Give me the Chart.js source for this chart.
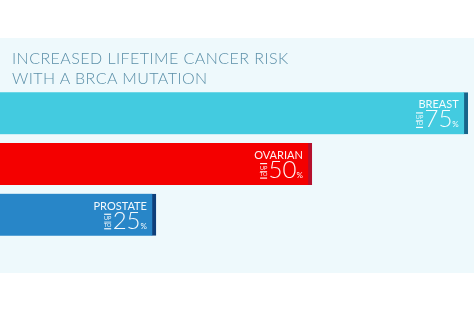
<!DOCTYPE html>
<html>
<head>
<meta charset="utf-8">
<script src="https://cdn.jsdelivr.net/npm/chart.js@4"></script>
<style>
  html, body { margin: 0; padding: 0; background: #ffffff; }
  #wrap { position: relative; width: 474px; height: 311px; }
  #title { position: absolute; left: 12px; top: 48px; font-family: Lato, "Open Sans", sans-serif; font-weight: 300;
           font-size: 16px; line-height: 20px; color: #5b8fa8; letter-spacing: 0.45px; z-index: 2; }
  canvas { position: absolute; left: 0; top: 0; }
</style>
</head>
<body>
<div id="wrap">
  <div id="title">INCREASED LIFETIME CANCER RISK<br>WITH A BRCA MUTATION</div>
  <canvas id="c" width="474" height="311"></canvas>
</div>
<script>
const categories = ["BREAST", "OVARIAN", "PROSTATE"];
const riskValues = [75, 50, 25];
const prefixText = ["UP", "TO"];
const barColors = ["#43cbe0", "#f40000", "#2886c8"];
const stripColors = ["#17648a", "#b5102d", "#0e3f7a"];

const panelPlugin = {
  id: 'panel',
  beforeDraw(chart) {
    const ctx = chart.ctx;
    ctx.save();
    ctx.fillStyle = '#eef9fc';
    ctx.fillRect(0, 38, 474, 235);
    ctx.restore();
  }
};

const labelPlugin = {
  id: 'barLabels',
  afterDatasetsDraw(chart) {
    const ctx = chart.ctx;
    const meta = chart.getDatasetMeta(0);
    ctx.save();
    meta.data.forEach((bar, i) => {
      const right = bar.x - 9;
      const top = bar.y - bar.height / 2;
      ctx.fillStyle = 'rgba(255,255,255,0.95)';
      ctx.textAlign = 'right';
      ctx.textBaseline = 'alphabetic';
      ctx.font = '400 11px Lato, "Open Sans", sans-serif';
      ctx.fillText(categories[i], right, top + 16);
      // percent sign
      ctx.font = '400 8px Lato, "Open Sans", sans-serif';
      ctx.fillText('%', right, top + 35);
      const pw = ctx.measureText('%').width;
      // number
      ctx.font = '300 24px Lato, "Open Sans", sans-serif';
      const num = String(riskValues[i]);
      ctx.fillText(num, right - pw, top + 35);
      const nw = ctx.measureText(num).width;
      // UP TO stacked
      const cx = right - pw - nw - 5;
      ctx.textAlign = 'center';
      ctx.font = '400 5.5px Lato, "Open Sans", sans-serif';
      ctx.fillText(prefixText[0], cx, top + 26.5);
      ctx.fillText(prefixText[1], cx, top + 33);
      ctx.fillRect(cx - 3.5, top + 20, 7, 1.2);
      ctx.fillRect(cx - 3.5, top + 28, 7, 0.8);
      ctx.fillRect(cx - 3.5, top + 34.5, 7, 1.2);
    });
    ctx.restore();
  }
};

new Chart(document.getElementById('c'), {
  type: 'bar',
  data: {
    labels: categories,
    datasets: [{
      data: riskValues,
      backgroundColor: barColors,
      borderColor: stripColors,
      borderWidth: { left: 0, top: 0, bottom: 0, right: 4 },
      borderSkipped: false,
      barThickness: 42
    }]
  },
  options: {
    indexAxis: 'y',
    responsive: false,
    animation: false,
    layout: { padding: { top: 88, bottom: 71, left: 0, right: 0 } },
    scales: {
      x: { display: false, min: 0, max: 76 },
      y: { display: false }
    },
    plugins: { legend: { display: false }, tooltip: { enabled: false }, title: { display: false } }
  },
  plugins: [panelPlugin, labelPlugin]
});
</script>
</body>
</html>
